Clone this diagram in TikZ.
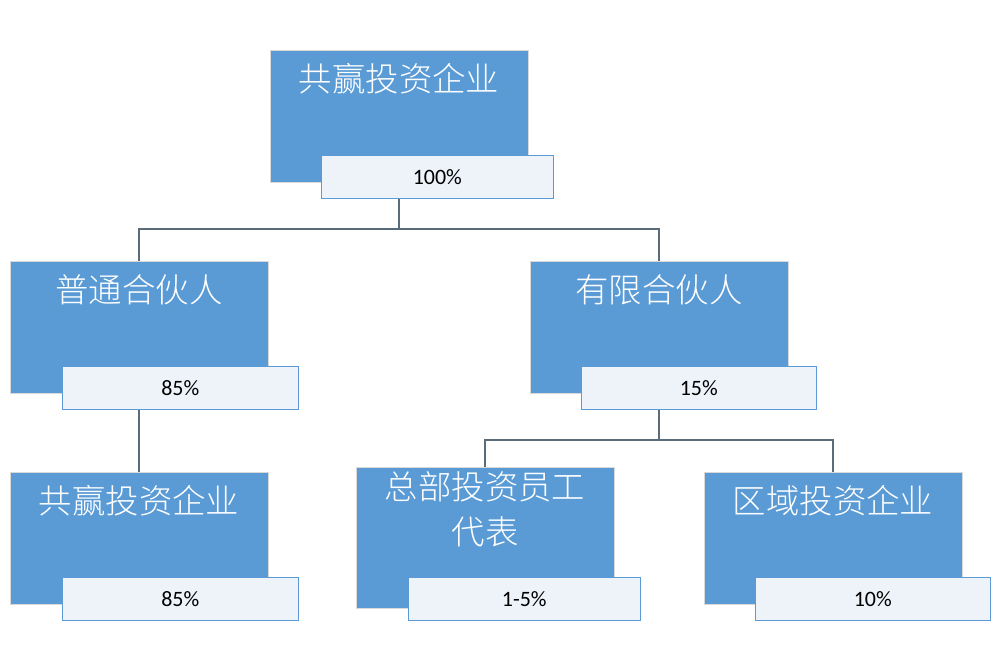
\documentclass[tikz,border=0pt]{standalone}
\usepackage{fontspec}
\setmainfont{Carlito}
\newfontfamily\cjk{Noto Sans CJK SC Light}[Path=/usr/share/fonts/opentype/noto/,UprightFont=NotoSansCJK-Light.ttc,FontIndex=2]
\usetikzlibrary{backgrounds}
\definecolor{boxblue}{HTML}{5B9BD5}
\definecolor{lblfill}{HTML}{EEF3FA}
\definecolor{linkgray}{HTML}{5A6B7A}

\begin{document}
\begin{tikzpicture}[x=0.02cm,y=-0.02cm,
    unit/.style={draw=gray!30,fill=boxblue,text=white,minimum width=5.16cm,minimum height=2.64cm,
      inner sep=2pt,align=center,font=\cjk\fontsize{19}{26}\selectfont},
    pct/.style={draw=boxblue,fill=lblfill,minimum width=4.66cm,minimum height=0.86cm,
      inner sep=5pt,anchor=north west,font=\fontsize{12.5}{14}\selectfont},
    link/.style={draw=linkgray,line width=1pt}]
  \useasboundingbox (0,0) rectangle (1000,671);

  % boxes
  \node[unit] (top) at (399,116) {共赢投资企业\\[18pt]};
  \node[unit] (gp) at (139,327) {普通合伙人\\[18pt]};
  \node[unit] (lp) at (659,327) {有限合伙人\\[18pt]};
  \node[unit] (gp2) at (139,538) {共赢投资企业\\[18pt]};
  \node[unit] (hq) at (485,538) {总部投资员工\\代表\\[8pt]};
  \node[unit] (reg) at (833,538) {区域投资企业\\[18pt]};

  % percentage tags
  \node[pct,minimum width=4.64cm] (top-p) at (321,155) {\hfill 100\%};
  \node[pct,minimum width=4.72cm] (gp-p) at (62,366) {\hfill 85\%};
  \node[pct,minimum width=4.70cm] (lp-p) at (581,366) {\hfill 15\%};
  \node[pct,minimum width=4.72cm] (gp2-p) at (62,577) {\hfill 85\%};
  \node[pct,minimum width=4.64cm] (hq-p) at (408,577) {\hfill 1-5\%};
  \node[pct,minimum width=4.70cm] (reg-p) at (755,577) {\hfill 10\%};

  % links
  \coordinate (j1) at (399,229);
  \coordinate (j2) at (659,440);
  \begin{scope}[on background layer]
    \draw[link] (top) -- (j1) -| (gp);
    \draw[link] (j1) -| (lp);
    \draw[link] (gp) -- (gp2);
    \draw[link] (lp) -- (j2) -| (hq);
    \draw[link] (j2) -| (reg);
  \end{scope}
\end{tikzpicture}
\end{document}
